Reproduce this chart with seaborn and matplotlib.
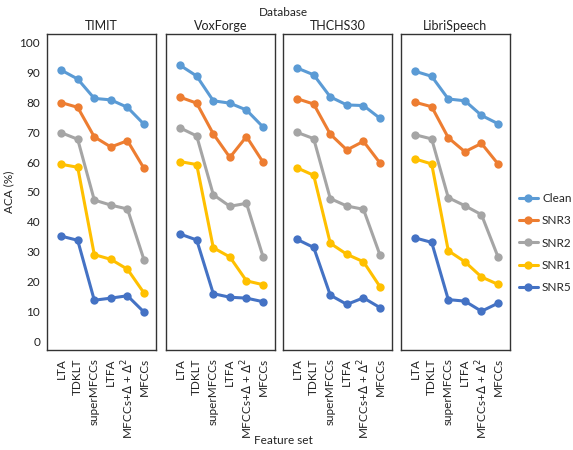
import matplotlib
matplotlib.use("Agg")
import matplotlib.pyplot as plt
import seaborn as sns
import pandas as pd

databases = ["TIMIT", "VoxForge", "THCHS30", "LibriSpeech"]
features = ["LTA", "TDKLT", "superMFCCs", "LTFA", r"MFCCs+$\Delta$ + $\Delta^2$", "MFCCs"]
conditions = ["Clean", "SNR3", "SNR2", "SNR1", "SNR5"]
colors = ["#5B9BD5", "#ED7D31", "#A5A5A5", "#FFC000", "#4472C4"]

timit_clean = [90.9, 87.9, 81.4, 80.9, 78.4, 72.7]
timit_snr3 = [80.0, 78.4, 68.5, 65.1, 67.2, 57.9]
timit_snr2 = [69.9, 67.7, 47.3, 45.6, 44.3, 27.2]
timit_snr1 = [59.3, 58.3, 29.0, 27.4, 24.1, 16.1]
timit_snr5 = [35.2, 33.8, 13.7, 14.4, 15.2, 9.7]

voxforge_clean = [92.5, 88.9, 80.6, 79.8, 77.5, 71.8]
voxforge_snr3 = [81.8, 79.8, 69.5, 61.6, 68.6, 60.0]
voxforge_snr2 = [71.5, 68.8, 49.1, 45.2, 46.2, 28.3]
voxforge_snr1 = [60.2, 59.2, 31.3, 28.2, 20.2, 18.9]
voxforge_snr5 = [35.9, 33.9, 15.9, 14.7, 14.4, 13.2]

thchs30_clean = [91.6, 89.3, 81.9, 79.2, 79.0, 74.7]
thchs30_snr3 = [81.3, 79.5, 69.4, 64.1, 67.0, 59.7]
thchs30_snr2 = [70.0, 67.9, 47.8, 45.3, 44.2, 28.8]
thchs30_snr1 = [58.1, 55.6, 32.8, 29.1, 26.6, 18.2]
thchs30_snr5 = [34.1, 31.4, 15.4, 12.3, 14.5, 11.2]

libri_clean = [90.5, 88.8, 81.2, 80.6, 75.7, 72.9]
libri_snr3 = [80.1, 78.6, 68.2, 63.5, 66.3, 59.4]
libri_snr2 = [69.2, 67.8, 48.1, 45.4, 42.4, 28.2]
libri_snr1 = [61.1, 59.4, 30.3, 26.6, 21.5, 19.0]
libri_snr5 = [34.6, 33.1, 13.9, 13.4, 10.0, 12.7]

series = {
    "TIMIT": [timit_clean, timit_snr3, timit_snr2, timit_snr1, timit_snr5],
    "VoxForge": [voxforge_clean, voxforge_snr3, voxforge_snr2, voxforge_snr1, voxforge_snr5],
    "THCHS30": [thchs30_clean, thchs30_snr3, thchs30_snr2, thchs30_snr1, thchs30_snr5],
    "LibriSpeech": [libri_clean, libri_snr3, libri_snr2, libri_snr1, libri_snr5],
}

rows = []
for db in databases:
    for cond, vals in zip(conditions, series[db]):
        for i, v in enumerate(vals):
            rows.append({"db": db, "cond": cond, "idx": i, "aca": v})
df = pd.DataFrame(rows)

sns.set_theme(style="white")
plt.rcParams["font.family"] = ["Lato", "DejaVu Sans"]
plt.rcParams["mathtext.fontset"] = "dejavusans"

W, H = 573, 450
fig = plt.figure(figsize=(W / 100, H / 100), dpi=100)
lefts = [47, 166, 283, 401]
pw = 109
top, bottom = 34, 350
palette = dict(zip(conditions, colors))
txt = "#222222"

axes = []
for k, db in enumerate(databases):
    ax = fig.add_axes([lefts[k] / W, 1 - bottom / H, pw / W, (bottom - top) / H])
    sub = df[df["db"] == db]
    sns.lineplot(data=sub, x="idx", y="aca", hue="cond", hue_order=conditions,
                 palette=palette, marker="o", markersize=6, markeredgewidth=0,
                 linewidth=2.2, ax=ax, legend=(k == 3))
    ax.set_xlim(-0.85, 5.72)
    ax.set_ylim(-3, 103)
    ax.set_xticks(range(len(features)))
    ax.set_xticklabels(features, rotation=90, fontsize=8.5, color=txt)
    ax.tick_params(axis="x", length=0, pad=6)
    ax.set_title(db, fontsize=9, pad=3, color=txt)
    ax.set_xlabel("")
    ax.set_ylabel("")
    for s in ax.spines.values():
        s.set_color("#333333")
        s.set_linewidth(1.0)
    if k == 0:
        ax.set_yticks(range(0, 101, 10))
        ax.tick_params(axis="y", length=0, labelsize=8.5, labelcolor=txt, pad=5)
        ax.set_ylabel("ACA (%)", fontsize=8.5, color=txt)
        ax.yaxis.set_label_coords((14 - lefts[0]) / pw, 0.5)
    else:
        ax.set_yticks([])
    axes.append(ax)

handles, labels = axes[3].get_legend_handles_labels()
axes[3].get_legend().remove()
fig.legend(handles, labels, loc="center left", bbox_to_anchor=(519 / W, 1 - 243 / H),
           frameon=False, fontsize=8.5, handlelength=1.6, labelspacing=0.95,
           handletextpad=0.35, borderpad=0, borderaxespad=0)

fig.text(283 / W, 1 - 12 / H, "Database", ha="center", va="center", fontsize=8.5, color=txt)
fig.text(283 / W, 1 - 441 / H, "Feature set", ha="center", va="center", fontsize=8.5, color=txt)

fig.savefig("out.png", dpi=100)
